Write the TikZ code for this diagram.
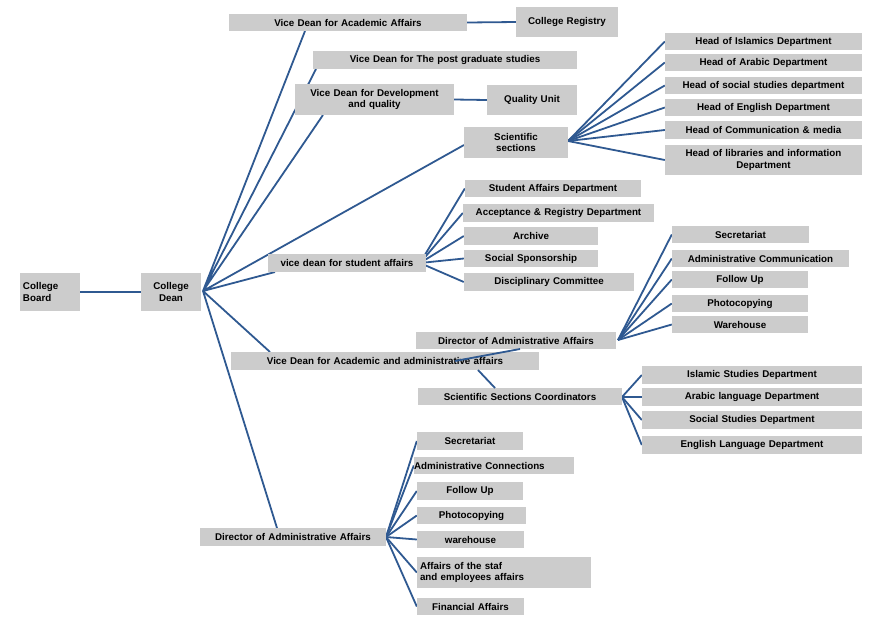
\documentclass[tikz,border=0pt]{standalone}
\usepackage{fontspec}
\setmainfont{Liberation Sans}
\usetikzlibrary{backgrounds}
\begin{document}
\begin{tikzpicture}[x=1pt,y=-1pt,
  ln/.style={draw={rgb,255:red,47;green,89;blue,145},line width=1.8pt},
  bxs/.style={fill=gray!40,inner sep=0pt,font=\fontsize{9.8}{11.5}\selectfont\bfseries,align=center}]
\useasboundingbox (0,0) rectangle (875,622);
\newcommand\bx[7][]{\node[bxs,minimum width=#5-#3,minimum height=#6-#4,text width=#5-#3-6,#1] (#2) at ({(#3+#5)/2},{(#4+#6)/2}) {#7};}
\bx[align=left]{board}{20}{273}{80}{311}{College\\Board}
\bx{dean}{141}{273}{201}{311}{College\\Dean}
\bx{vda}{229}{14}{467}{31}{Vice Dean for Academic Affairs}
\bx{reg}{516}{7}{618}{37}{College Registry}
\bx{vdp}{313}{51}{577}{69}{Vice Dean for The post graduate studies}
\bx{vdd}{295}{84}{454}{115}{Vice Dean for Development\\and quality}
\bx{qu}{487}{85}{577}{115}{Quality Unit}
\bx{ss}{464}{127}{568}{158}{Scientific\\sections}
\bx{h1}{665}{33}{862}{50}{Head of Islamics Department}
\bx{h2}{665}{54}{862}{71}{Head of Arabic Department}
\bx{h3}{665}{77}{862}{94}{Head of social studies department}
\bx{h4}{665}{99}{862}{116}{Head of English Department}
\bx{h5}{665}{121}{862}{139}{Head of Communication \& media}
\bx{h6}{665}{145}{862}{175}{Head of libraries and information\\Department}
\bx{vds}{268}{254}{426}{272}{vice dean for student affairs}
\bx{s1}{465}{180}{641}{197}{Student Affairs Department}
\bx{s2}{463}{204}{654}{222}{Acceptance \& Registry Department}
\bx{s3}{464}{227}{598}{245}{Archive}
\bx{s4}{464}{250}{598}{267}{Social Sponsorship}
\bx{s5}{464}{273}{634}{291}{Disciplinary Committee}
\bx{r1}{672}{226}{809}{243}{Secretariat}
\bx{r2}{672}{250}{849}{267}{Administrative Communication}
\bx{r3}{672}{271}{808}{288}{Follow Up}
\bx{r4}{672}{295}{808}{312}{Photocopying}
\bx{r5}{672}{316}{808}{333}{Warehouse}
\bx{dam}{416}{332}{616}{349}{Director of Administrative Affairs}
\bx{vdaa}{231}{352}{539}{370}{Vice Dean for Academic and administrative affairs}
\bx{ssc}{418}{388}{622}{405}{Scientific Sections Coordinators}
\bx{c1}{642}{366}{862}{384}{Islamic Studies Department}
\bx{c2}{642}{388}{862}{406}{Arabic language Department}
\bx{c3}{642}{411}{862}{429}{Social Studies Department}
\bx{c4}{642}{436}{862}{454}{English Language Department}
\bx{dab}{200}{528}{386}{546}{Director of Administrative Affairs}
\bx{b1}{417}{432}{523}{450}{Secretariat}
\bx[align=left,text width=160]{b2}{417}{457}{571}{474}{Administrative Connections}
\bx{b3}{417}{482}{523}{500}{Follow Up}
\bx{b4}{417}{507}{526}{524}{Photocopying}
\bx{b5}{417}{531}{524}{548}{warehouse}
\bx[align=left]{b6}{417}{557}{591}{588}{Affairs of the staf\\and employees affairs}
\bx{b7}{417}{598}{524}{615}{Financial Affairs}
\coordinate (hd) at (203,291);
\coordinate (hs) at (420,263);
\coordinate (hss) at (568,141);
\coordinate (hm) at (618,340);
\coordinate (hc) at (622,397);
\coordinate (hb) at (386,537);
\begin{scope}[on background layer]
\draw[ln] (board.east) -- (dean.west);
\draw[ln] (hd) -- (305,31) (hd) -- (316,69) (hd) -- (323,115) (hd) -- (464,145)
  (hd) -- (275,272) (hd) -- (270,352) (hd) -- (277,528);
\draw[ln] (vda.east) -- (reg.west);
\draw[ln] (vdd.east) -- (qu.west);
\foreach \n in {h1,h2,h3,h4,h5,h6} \draw[ln] (hss) -- (\n.west);
\foreach \n in {s1,s2,s3,s4,s5} \draw[ln] (hs) -- (\n.west);
\foreach \n in {r1,r2,r3,r4,r5} \draw[ln] (hm) -- (\n.west);
\foreach \n in {c1,c2,c3,c4} \draw[ln] (hc) -- (\n.west);
\foreach \n in {b1,b2,b3,b4,b5,b6,b7} \draw[ln] (hb) -- (\n.west);
\end{scope}
\draw[ln] (455,361) -- (520,349);
\draw[ln] (478,370) -- (495,388);
\end{tikzpicture}
\end{document}
